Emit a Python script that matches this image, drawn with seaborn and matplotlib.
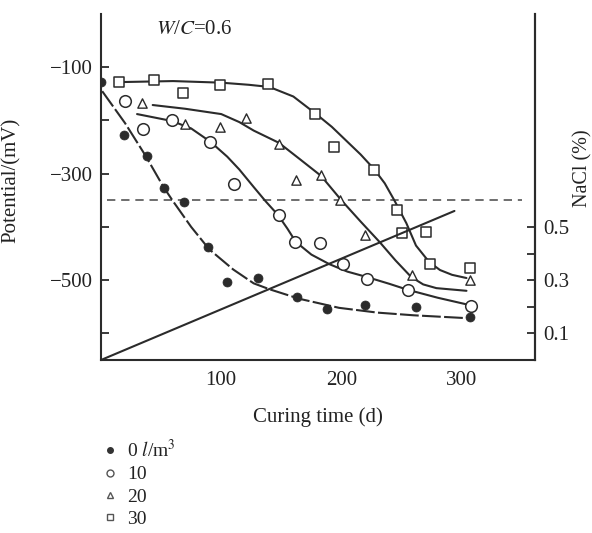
import numpy as np
import pandas as pd
import matplotlib
matplotlib.use("Agg")
import matplotlib.pyplot as plt
from matplotlib.lines import Line2D
import seaborn as sns

# ---- data ----
# measured points (curing time d, potential mV)
d0_days = [0, 19, 38, 52, 69, 89, 105, 131, 163, 188, 220, 262, 307]
d0_mv = [-128, -227, -266, -326, -354, -438, -504, -496, -532, -554, -547, -550, -569]

d10_days = [20, 35, 59, 91, 111, 148, 161, 182, 201, 221, 255, 308]
d10_mv = [-164, -216, -199, -240, -319, -377, -428, -431, -469, -497, -519, -549]

d20_days = [34, 70, 99, 121, 148, 162, 183, 199, 220, 259, 307]
d20_mv = [-167, -206, -212, -196, -245, -312, -302, -349, -415, -491, -500]

d30_days = [15, 44, 68, 99, 139, 178, 194, 227, 246, 250, 270, 274, 307]
d30_mv = [-128, -124, -149, -134, -132, -187, -249, -293, -368, -412, -410, -470, -477]

# fitted curves
c0_days = [1, 20, 37, 52, 60, 75, 90, 110, 127, 140, 165, 198, 230, 260, 301]
c0_mv = [-145, -205, -266, -325, -352, -400, -442, -480, -506, -517, -535, -552, -561, -566, -571]

c10_days = [30, 59, 75, 91, 105, 115, 127, 137, 147, 155, 162, 175, 190, 205, 221, 240, 255, 280, 307]
c10_mv = [-188, -201, -215, -240, -268, -292, -325, -352, -377, -403, -428, -452, -470, -484,
          -494, -507, -518, -533, -547]

c20_days = [43, 70, 100, 115, 127, 148, 165, 183, 200, 216, 232, 245, 258, 268, 279, 304]
c20_mv = [-171, -178, -188, -203, -219, -242, -272, -304, -350, -390, -429, -463, -494, -508,
          -515, -520]

c30_days = [14, 60, 100, 123, 140, 160, 179, 192, 204, 216, 227, 236, 244, 254, 262, 273, 282,
            292, 304]
c30_mv = [-128, -126, -129, -133, -137, -155, -188, -212, -238, -264, -291, -318, -350, -393,
          -435, -466, -481, -490, -496]

# NaCl content line (right axis)
nacl_days = [0, 294]
nacl_pct = [0.0, 0.56]

# critical potential (dashed)
crit_days = [5, 350]
crit_mv = [-350, -350]

legend_labels = [r"0 $\mathit{l}$/m$^3$", "10", "20", "30"]

# ---- style ----
sns.set_theme(style="white")
plt.rcParams["font.family"] = ["Liberation Serif", "DejaVu Serif"]
plt.rcParams["mathtext.fontset"] = "stix"
plt.rcParams["mathtext.default"] = "rm"

ink = "#2b2b2b"
txt = "#222222"
lw = 1.5

fig = plt.figure(figsize=(5.92, 5.33), dpi=100)
ax = fig.add_axes([101 / 592, 1 - 360 / 533, (535 - 101) / 592, (360 - 14) / 533])

for cd, cm, ls in [(c0_days, c0_mv, (0, (9, 1.6))), (c10_days, c10_mv, "-"),
                   (c20_days, c20_mv, "-"), (c30_days, c30_mv, "-")]:
    sns.lineplot(x=cd, y=cm, ax=ax, color=ink, lw=lw, linestyle=ls, sort=False, zorder=2)

sns.lineplot(x=crit_days, y=crit_mv, ax=ax, color="#555555", lw=1.2,
             linestyle=(0, (5, 3.5)), zorder=1)

sns.scatterplot(x=d0_days, y=d0_mv, ax=ax, marker="o", s=42, color=ink,
                edgecolor=ink, linewidth=0.5, zorder=4)
sns.scatterplot(x=d10_days, y=d10_mv, ax=ax, marker="o", s=70, color="white",
                edgecolor=ink, linewidth=1.1, zorder=4)
sns.scatterplot(x=d20_days, y=d20_mv, ax=ax, marker="^", s=45, color="white",
                edgecolor=ink, linewidth=1.0, zorder=4)
sns.scatterplot(x=d30_days, y=d30_mv, ax=ax, marker="s", s=60, color="white",
                edgecolor=ink, linewidth=1.1, zorder=4)

ax.set_xlim(0, 361)
ax.set_ylim(-650, 0)
ax.set_xticks([100, 200, 300])
ax.set_yticks([-100, -300, -500])
ax.set_yticklabels(["\u2212100", "\u2212300", "\u2212500"])
ax.set_yticks([-200, -400, -600], minor=True)
ax.tick_params(axis="both", which="both", direction="in", length=6, width=1.3,
               color=ink, labelsize=15, labelcolor=txt, pad=6)
ax.tick_params(axis="x", pad=8)
ax.set_xlabel("Curing time (d)", fontsize=15, color=txt, labelpad=12)
ax.set_ylabel("Potential/(mV)", fontsize=15, color=txt)
ax.yaxis.set_label_coords(-(101 - 21) / 434, (360 - 180) / 346)

ax.spines["top"].set_visible(False)
for side in ["left", "bottom", "right"]:
    ax.spines[side].set_color(ink)
    ax.spines[side].set_linewidth(1.5)

ax2 = ax.twinx()
sns.lineplot(x=nacl_days, y=nacl_pct, ax=ax2, color=ink, lw=lw, zorder=1)
ax2.set_ylim(0, 1.3)
ax2.set_yticks([0.1, 0.3, 0.5])
ax2.set_yticks([0.2, 0.4], minor=True)
ax2.tick_params(axis="y", which="both", direction="in", length=6, width=1.3,
                color=ink, labelsize=15, labelcolor=txt, pad=6)
for side in ["top", "left", "bottom"]:
    ax2.spines[side].set_visible(False)
ax2.spines["right"].set_color(ink)
ax2.spines["right"].set_linewidth(1.5)
ax2.set_ylabel("NaCl (%)", fontsize=14.5, color=txt)
ax2.yaxis.set_label_coords(1 + (583 - 535) / 434, (360 - 168) / 346)
ax2.yaxis.label.set_verticalalignment("center")

ax.text(46, -29, r"$\mathit{W}$/$\mathit{C}$=0.6", fontsize=15, color=txt,
        ha="left", va="center")

handles = [
    Line2D([], [], marker="o", ls="none", ms=4, mfc="#333333", mec="#333333"),
    Line2D([], [], marker="o", ls="none", ms=5, mfc="white", mec="#555555", mew=1.0),
    Line2D([], [], marker="^", ls="none", ms=5, mfc="white", mec="#555555", mew=1.0),
    Line2D([], [], marker="s", ls="none", ms=4.5, mfc="white", mec="#555555", mew=1.0),
]
fig.legend(handles, legend_labels, loc="upper left",
           bbox_to_anchor=(104 / 592, 1 - 439 / 533), frameon=False,
           fontsize=14, handlelength=0.6, handletextpad=0.6,
           labelspacing=0.24, borderpad=0, borderaxespad=0, labelcolor=txt)

fig.savefig("out.png", dpi=100)
